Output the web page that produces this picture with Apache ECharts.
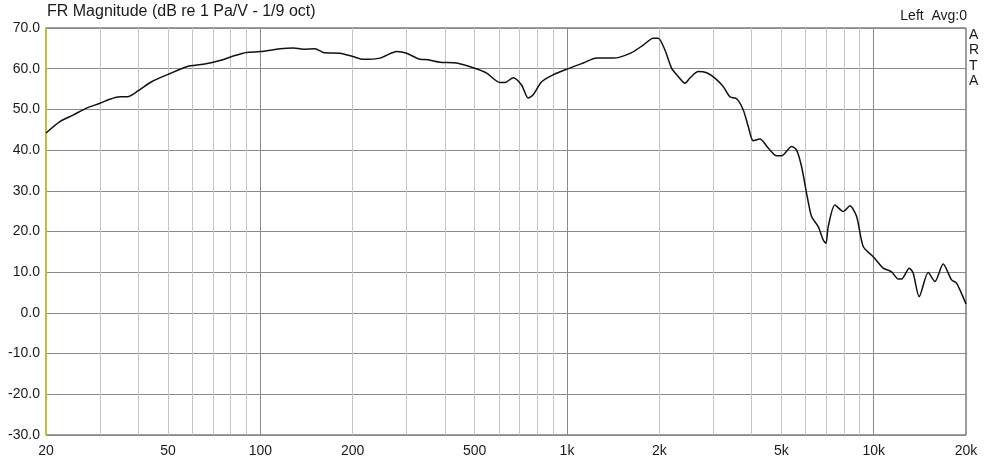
<!DOCTYPE html>
<html>
<head>
<meta charset="utf-8">
<script src="https://cdn.jsdelivr.net/npm/echarts@6/dist/echarts.min.js"></script>
<style>
  html, body { margin: 0; padding: 0; background: #ffffff; }
  #chart { width: 1000px; height: 460px; }
</style>
</head>
<body>
<div id="chart"></div>
<script>
// ---- Data ----
var freqs = [20, 22.2, 24.5, 27.1, 30, 32.3, 34.9, 36.8, 40, 44.2, 50, 57.5, 65.2, 73.8, 81.6, 90, 100,
  115.9, 128, 138, 150.7, 160.4, 181.8, 200, 216.6, 245.6, 278.4, 300, 331.6, 352.9, 385.3, 436.6, 500,
  547, 604.4, 627.6, 667.8, 711, 747, 776, 826.6, 902, 1000, 1130, 1249, 1415, 1620, 1772, 1910, 1983,
  2086, 2194, 2305, 2424, 2516, 2679, 2853, 3036, 3232, 3398, 3573, 3754, 3899, 4048, 4256, 4529, 4826,
  5010, 5400, 5608, 5820, 6070, 6274, 6594, 6846, 6986, 7108, 7474, 7956, 8366, 8798, 9244, 9964, 10740,
  11440, 12020, 12330, 13060, 13450, 14070, 15060, 15840, 16850, 17950, 18630, 20000];
var magnitudes = [44.2, 47.0, 48.6, 50.3, 51.5, 52.5, 53.1, 53.1, 54.6, 56.8, 58.6, 60.5, 61.1, 62.0, 63.1, 64.0, 64.2,
  64.9, 65.1, 64.8, 64.9, 64.0, 63.8, 63.0, 62.3, 62.6, 64.2, 63.8, 62.3, 62.2, 61.6, 61.4, 60.1,
  58.9, 56.6, 56.6, 57.8, 56.0, 52.8, 53.6, 56.8, 58.5, 59.9, 61.4, 62.6, 62.6, 63.9, 65.8, 67.5, 67.5,
  64.6, 60.1, 58.1, 56.4, 57.7, 59.3, 59.0, 57.7, 55.6, 53.1, 52.6, 49.9, 45.8, 42.3, 42.7, 40.5, 38.6,
  38.6, 40.9, 40.0, 35.9, 28.6, 23.7, 21.2, 17.9, 17.1, 21.2, 26.5, 24.9, 26.3, 23.7, 16.3, 13.8, 11.0,
  10.1, 8.3, 8.3, 11.0, 9.8, 4.0, 9.9, 7.7, 12.0, 8.1, 7.3, 2.2];

var xTickValues = [20, 50, 100, 200, 500, 1000, 2000, 5000, 10000, 20000];
var xTickLabels = ['20', '50', '100', '200', '500', '1k', '2k', '5k', '10k', '20k'];
var majorGridFreqs = [100, 1000, 10000];
var minorGridFreqs = [30, 40, 50, 60, 70, 80, 90, 200, 300, 400, 500, 600, 700, 800, 900,
  2000, 3000, 4000, 5000, 6000, 7000, 8000, 9000];
var yMin = -30, yMax = 70, yStep = 10;

var titleText = 'FR Magnitude (dB re 1 Pa/V - 1/9 oct)';
var legendText = 'Left  Avg:0';
var sideText = 'A\nR\nT\nA';

// ---- Chart ----
var chart = echarts.init(document.getElementById('chart'), null, { renderer: 'canvas' });

var seriesData = freqs.map(function (f, i) { return [f, magnitudes[i]]; });

var gridLines = [];
minorGridFreqs.forEach(function (f) {
  gridLines.push({ xAxis: f, lineStyle: { color: '#c4c4c4', width: 1, type: 'solid' } });
});
majorGridFreqs.forEach(function (f) {
  gridLines.push({ xAxis: f, lineStyle: { color: '#8a8a8a', width: 1, type: 'solid' } });
});

var font = 'Arial, "Liberation Sans", Helvetica, sans-serif';

chart.setOption({
  animation: false,
  backgroundColor: '#ffffff',
  grid: {
    left: 46, right: 34, top: 28, bottom: 25,
    show: true, borderColor: '#3a3a3a', borderWidth: 1, backgroundColor: 'transparent'
  },
  graphic: [
    { type: 'text', left: 47, top: 4, style: { text: titleText, fontFamily: font, fontSize: 16, fill: '#1a1a1a' } },
    { type: 'text', right: 33, top: 9, style: { text: legendText, fontFamily: font, fontSize: 14, fill: '#1a1a1a' } },
    { type: 'text', left: 969, top: 27, style: { text: sideText, fontFamily: font, fontSize: 14, lineHeight: 15.5, fill: '#1a1a1a', align: 'left' } }
  ],
  xAxis: {
    type: 'log',
    logBase: 10,
    min: 20,
    max: 20000,
    axisLine: { show: false },
    axisTick: { show: false },
    splitLine: { show: false },
    axisLabel: {
      customValues: xTickValues,
      color: '#1a1a1a',
      fontFamily: font,
      fontSize: 14,
      margin: 9,
      showMinLabel: true,
      showMaxLabel: true,
      formatter: function (v) {
        var best = 0, bd = Infinity;
        for (var i = 0; i < xTickValues.length; i++) {
          var d = Math.abs(Math.log(v) - Math.log(xTickValues[i]));
          if (d < bd) { bd = d; best = i; }
        }
        return xTickLabels[best];
      }
    }
  },
  yAxis: {
    type: 'value',
    min: yMin,
    max: yMax,
    interval: yStep,
    axisLine: { show: true, lineStyle: { color: '#c2bb3c', width: 2 } },
    axisTick: { show: false },
    splitLine: { show: true, lineStyle: { color: '#8a8a8a', width: 1 } },
    axisLabel: {
      color: '#1a1a1a',
      fontFamily: font,
      fontSize: 14,
      margin: 6,
      formatter: function (v) { return v.toFixed(1); }
    }
  },
  series: [{
    type: 'line',
    data: seriesData,
    showSymbol: false,
    smooth: 0.25,
    clip: true,
    lineStyle: { color: '#111111', width: 1.5 },
    z: 5,
    markLine: {
      silent: true,
      symbol: ['none', 'none'],
      label: { show: false },
      data: gridLines,
      z: 1
    }
  }]
});
</script>
</body>
</html>
